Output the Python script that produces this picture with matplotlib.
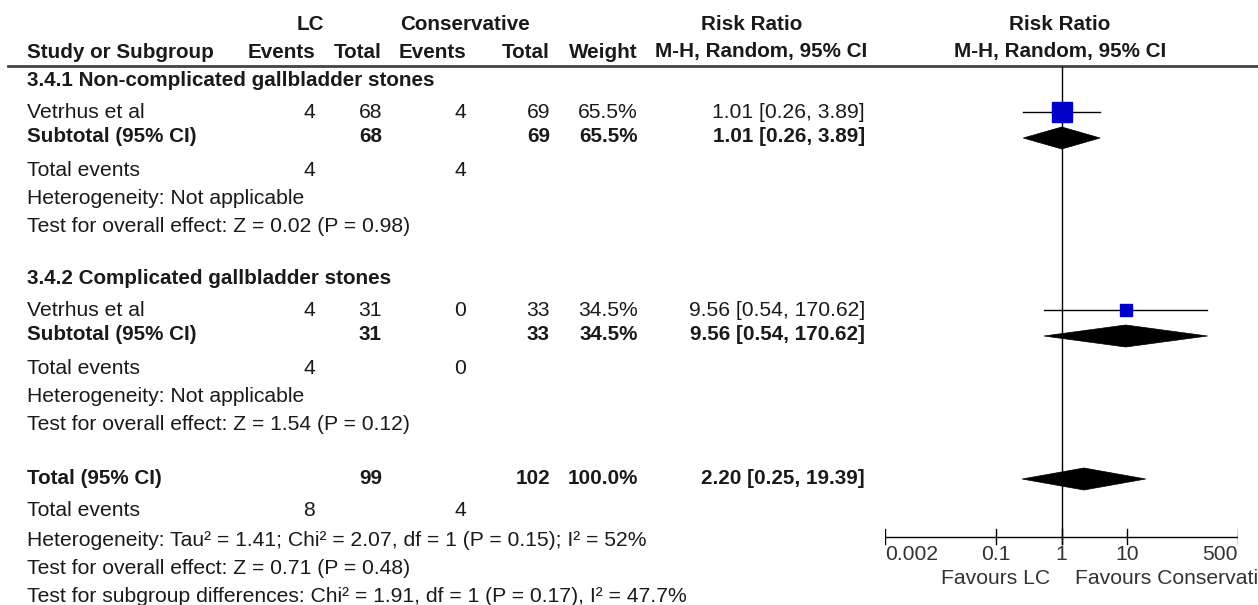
import matplotlib
matplotlib.use("Agg")
import matplotlib.pyplot as plt
from matplotlib.patches import Polygon

plt.rcParams['font.family'] = ['Liberation Sans', 'DejaVu Sans']

# table data, one entry per subgroup
subgroup_titles = ["3.4.1 Non-complicated gallbladder stones",
                   "3.4.2 Complicated gallbladder stones"]
study_names = ["Vetrhus et al", "Vetrhus et al"]
lc_events = [4, 4]
lc_totals = [68, 31]
con_events = [4, 0]
con_totals = [69, 33]
weights = [65.5, 34.5]
rr_est = [1.01, 9.56]
rr_low = [0.26, 0.54]
rr_high = [3.89, 170.62]
het_texts = ["Heterogeneity: Not applicable",
             "Heterogeneity: Not applicable"]
effect_texts = ["Test for overall effect: Z = 0.02 (P = 0.98)",
                "Test for overall effect: Z = 1.54 (P = 0.12)"]

# overall pooled result
total_lc = 99
total_con = 102
total_weight = 100.0
total_est = 2.20
total_low = 0.25
total_high = 19.39
total_lc_events = 8
total_con_events = 4
total_het = "Heterogeneity: Tau\u00b2 = 1.41; Chi\u00b2 = 2.07, df = 1 (P = 0.15); I\u00b2 = 52%"
total_effect = "Test for overall effect: Z = 0.71 (P = 0.48)"
subgroup_diff = "Test for subgroup differences: Chi\u00b2 = 1.91, df = 1 (P = 0.17), I\u00b2 = 47.7%"

tick_values = [0.002, 0.1, 1, 10, 500]
tick_labels = ["0.002", "0.1", "1", "10", "500"]

W, H = 1258, 605
FS = 15.2     # normal text
FSB = 14.9    # bold text
TXT = "#1a1a1a"
BLUE = "#0000c8"

# column right edges (pixels)
X_NAME = 27
X_LCE = 315
X_LCT = 382
X_CE = 466
X_CT = 550
X_W = 638
X_RR = 865


def fmt_ci(est, lo, hi):
    return f"{est:.2f} [{lo:.2f}, {hi:.2f}]"


def txt(ax, x, y, s, ha="left", bold=False, color=TXT, size=None):
    if size is None:
        size = FSB if bold else FS
    ax.text(x, y, s, ha=ha, va="center", fontsize=size, color=color,
            fontweight="bold" if bold else "normal", clip_on=False)


def diamond(axf, y, est, lo, hi, h=11):
    poly = Polygon([(lo, y), (est, y - h), (hi, y), (est, y + h)],
                   closed=True, facecolor="black", edgecolor="black", lw=0.5)
    axf.add_patch(poly)


def main():
    fig = plt.figure(figsize=(W / 100, H / 100), dpi=100)
    ax = fig.add_axes([0, 0, 1, 1])
    ax.set_xlim(0, W)
    ax.set_ylim(H, 0)
    ax.axis("off")

    # forest plot area on a log scale
    x0, x1 = 885, 1238
    axf = fig.add_axes([x0 / W, 0, (x1 - x0) / W, 1])
    axf.set_xscale("log")
    axf.set_xlim(0.002, 500)
    axf.set_ylim(H, 0)
    axf.axis("off")

    # headers
    txt(ax, 310, 24, "LC", ha="center", bold=True)
    txt(ax, 465, 24, "Conservative", ha="center", bold=True)
    txt(ax, 752, 24, "Risk Ratio", ha="center", bold=True)
    txt(ax, 1060, 24, "Risk Ratio", ha="center", bold=True)
    txt(ax, X_NAME, 52, "Study or Subgroup", bold=True)
    txt(ax, X_LCE, 52, "Events", ha="right", bold=True)
    txt(ax, X_LCT, 52, "Total", ha="right", bold=True)
    txt(ax, X_CE, 52, "Events", ha="right", bold=True)
    txt(ax, X_CT, 52, "Total", ha="right", bold=True)
    txt(ax, X_W, 52, "Weight", ha="right", bold=True)
    txt(ax, 761, 52, "M-H, Random, 95% CI", ha="center", bold=True)
    txt(ax, 1060, 52, "M-H, Random, 95% CI", ha="center", bold=True)
    ax.plot([8, W], [66, 66], color="#444444", lw=2)

    # vertical line of no effect
    axf.plot([1, 1], [67, 544], color="black", lw=1)

    # subgroups
    offsets = [0, 198]
    sq_sizes = [13.8, 8.8]
    for i in range(len(subgroup_titles)):
        d = offsets[i]
        txt(ax, X_NAME, 81 + d, subgroup_titles[i], bold=True)

        y = 112 + d
        txt(ax, X_NAME, y, study_names[i])
        txt(ax, X_LCE, y, str(lc_events[i]), ha="right")
        txt(ax, X_LCT, y, str(lc_totals[i]), ha="right")
        txt(ax, X_CE, y, str(con_events[i]), ha="right")
        txt(ax, X_CT, y, str(con_totals[i]), ha="right")
        txt(ax, X_W, y, f"{weights[i]:.1f}%", ha="right")
        txt(ax, X_RR, y, fmt_ci(rr_est[i], rr_low[i], rr_high[i]), ha="right")
        axf.plot([rr_low[i], rr_high[i]], [y, y], color="black", lw=1)
        axf.plot([rr_est[i]], [y], marker="s", ms=sq_sizes[i],
                 color=BLUE, mec=BLUE)

        y = 137 + d
        txt(ax, X_NAME, y, "Subtotal (95% CI)", bold=True)
        txt(ax, X_LCT, y, str(lc_totals[i]), ha="right", bold=True)
        txt(ax, X_CT, y, str(con_totals[i]), ha="right", bold=True)
        txt(ax, X_W, y, f"{weights[i]:.1f}%", ha="right", bold=True)
        txt(ax, X_RR, y, fmt_ci(rr_est[i], rr_low[i], rr_high[i]),
            ha="right", bold=True)
        diamond(axf, y + 1, rr_est[i], rr_low[i], rr_high[i])

        y = 170 + d
        txt(ax, X_NAME, y, "Total events")
        txt(ax, X_LCE, y, str(lc_events[i]), ha="right")
        txt(ax, X_CE, y, str(con_events[i]), ha="right")
        txt(ax, X_NAME, 198 + d, het_texts[i])
        txt(ax, X_NAME, 226 + d, effect_texts[i])

    # overall total
    y = 479
    txt(ax, X_NAME, y, "Total (95% CI)", bold=True)
    txt(ax, X_LCT, y, str(total_lc), ha="right", bold=True)
    txt(ax, X_CT, y, str(total_con), ha="right", bold=True)
    txt(ax, X_W, y, f"{total_weight:.1f}%", ha="right", bold=True)
    txt(ax, X_RR, y, fmt_ci(total_est, total_low, total_high),
        ha="right", bold=True)
    diamond(axf, y, total_est, total_low, total_high)

    txt(ax, X_NAME, 510, "Total events")
    txt(ax, X_LCE, 510, str(total_lc_events), ha="right")
    txt(ax, X_CE, 510, str(total_con_events), ha="right")
    txt(ax, X_NAME, 540, total_het)
    txt(ax, X_NAME, 568, total_effect)
    txt(ax, X_NAME, 596, subgroup_diff)

    # scale axis
    axf.plot([tick_values[0], tick_values[-1]], [537, 537], color="black", lw=1)
    aligns = ["left", "center", "center", "center", "right"]
    for v, lab, al in zip(tick_values, tick_labels, aligns):
        axf.plot([v, v], [529, 544], color="black", lw=1)
        axf.text(v, 554, lab, ha=al, va="center", fontsize=FS,
                 color="#333333", clip_on=False)
    txt(ax, 1050, 578, "Favours LC", ha="right", color="#333333")
    txt(ax, 1075, 578, "Favours Conservative", color="#333333")

    fig.savefig("out.png", dpi=100)


if __name__ == "__main__":
    main()
